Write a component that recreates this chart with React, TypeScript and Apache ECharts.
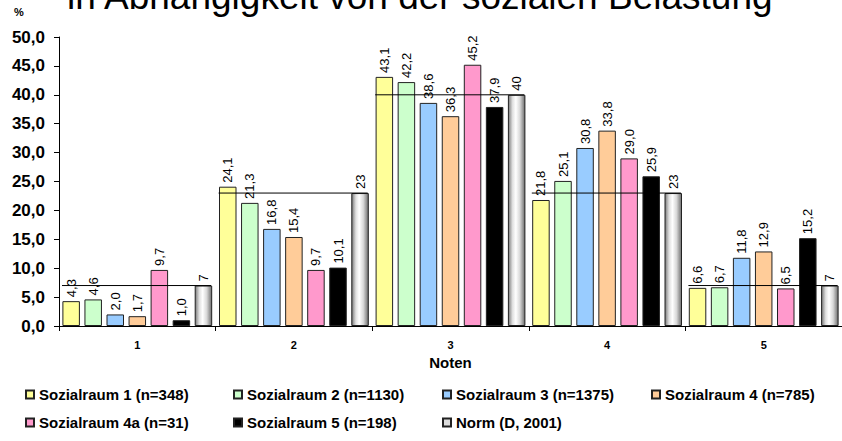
import React, { useEffect, useRef } from "react";
import * as echarts from "echarts";

const categories = ["1", "2", "3", "4", "5"];
const seriesNames = [
  "Sozialraum 1 (n=348)",
  "Sozialraum 2 (n=1130)",
  "Sozialraum 3 (n=1375)",
  "Sozialraum 4 (n=785)",
  "Sozialraum 4a (n=31)",
  "Sozialraum 5 (n=198)",
  "Norm (D, 2001)",
];
const sozialraum1 = [4.3, 24.1, 43.1, 21.8, 6.6];
const sozialraum2 = [4.6, 21.3, 42.2, 25.1, 6.7];
const sozialraum3 = [2.0, 16.8, 38.6, 30.8, 11.8];
const sozialraum4 = [1.7, 15.4, 36.3, 33.8, 12.9];
const sozialraum4a = [9.7, 9.7, 45.2, 29.0, 6.5];
const sozialraum5 = [1.0, 10.1, 37.9, 25.9, 15.2];
const norm = [7, 23, 40, 23, 7];
const yTicks = { min: 0, max: 50, interval: 5 };

const colors = ["#FFFF99", "#CCFFCC", "#99CCFF", "#FFCC99", "#FF99CC", "#000000"];
const FONT = "'Liberation Sans', Arial, Helvetica, sans-serif";

export default function App() {
  const ref = useRef<HTMLDivElement>(null);
  useEffect(() => {
    if (!ref.current) return;
    const chart = echarts.init(ref.current, null, { renderer: "svg" });
    const values = [sozialraum1, sozialraum2, sozialraum3, sozialraum4, sozialraum4a, sozialraum5];
    const normGradient = new echarts.graphic.LinearGradient(1, 0, 0, 0, [
      { offset: 0, color: "#6e6e6e" },
      { offset: 0.3, color: "#d8d8d8" },
      { offset: 0.55, color: "#ffffff" },
      { offset: 0.75, color: "#e0e0e0" },
      { offset: 1, color: "#7a7a7a" },
    ]);
    const barSeries: any[] = values.map((vals, i) => ({
      name: seriesNames[i],
      type: "bar",
      data: vals,
      barWidth: 17.5,
      barGap: "26%",
      itemStyle: { color: colors[i], borderColor: "#222", borderWidth: 1 },
      label: {
        show: true,
        position: "top",
        rotate: 90,
        align: "left",
        verticalAlign: "middle",
        distance: 4,
        fontSize: 13,
        fontFamily: FONT,
        color: "#000",
        formatter: (p: any) => p.value.toFixed(1).replace(".", ","),
      },
    }));
    barSeries.push({
      name: seriesNames[6],
      type: "bar",
      data: norm,
      barWidth: 17.5,
      barGap: "26%",
      itemStyle: { color: normGradient, borderColor: "#222", borderWidth: 1 },
      label: {
        show: true,
        position: "top",
        rotate: 90,
        align: "left",
        verticalAlign: "middle",
        distance: 4,
        fontSize: 13,
        fontFamily: FONT,
        color: "#000",
        formatter: (p: any) => String(p.value),
      },
    });
    barSeries.push({
      type: "custom",
      name: "normline",
      z: 5,
      data: norm.map((v, i) => [i, v]),
      renderItem: (params: any, api: any) => {
        const c = api.coord([api.value(0), api.value(1)]);
        const bw = api.size([1, 0])[0];
        return {
          type: "line",
          shape: { x1: c[0] - bw / 2 + 3, y1: c[1], x2: c[0] + bw / 2 - 4.5, y2: c[1] },
          style: { stroke: "#000", lineWidth: 1 },
        };
      },
    });

    const legendPos = [
      [25, 387],
      [233, 387],
      [442, 387],
      [651, 387],
      [25, 415],
      [233, 415],
      [442, 415],
    ];
    const legends = seriesNames.map((n, i) => ({
      left: legendPos[i][0],
      top: legendPos[i][1],
      padding: 0,
      itemWidth: 8,
      itemHeight: 8,
      icon: "rect",
      selectedMode: false,
      data: [i === 6 ? { name: n, itemStyle: { color: "#dcdcdc" } } : n],
      textStyle: { fontSize: 15, fontWeight: "bold", fontFamily: FONT, color: "#000" },
    }));

    chart.setOption({
      animation: false,
      backgroundColor: "#fff",
      grid: { left: 59, right: -9.5, top: 37, bottom: 115, containLabel: false },
      legend: legends,
      xAxis: {
        type: "category",
        data: categories,
        axisLine: { show: true, lineStyle: { color: "#000", width: 1 } },
        axisTick: { show: true, length: 5, lineStyle: { color: "#000" } },
        axisLabel: { fontSize: 11, fontWeight: "bold", fontFamily: FONT, color: "#000", margin: 13 },
        name: "Noten",
        nameLocation: "middle",
        nameGap: 23,
        nameTextStyle: { fontSize: 15, fontWeight: "bold", fontFamily: FONT, color: "#000" },
      },
      yAxis: {
        type: "value",
        min: yTicks.min,
        max: yTicks.max,
        interval: yTicks.interval,
        axisLine: { show: true, lineStyle: { color: "#000", width: 1 } },
        axisTick: { show: true, length: 5, lineStyle: { color: "#000" } },
        splitLine: { show: false },
        axisLabel: {
          fontSize: 17,
          fontWeight: "bold",
          fontFamily: FONT,
          color: "#000",
          margin: 14,
          formatter: (v: number) => v.toFixed(1).replace(".", ","),
        },
      },
      graphic: [
        {
          type: "text",
          left: 14,
          top: 6,
          style: { text: "%", fontSize: 11, fontWeight: "bold", fontFamily: FONT, fill: "#000" },
        },
        {
          type: "text",
          x: 67,
          y: 15,
          style: {
            text: "in Abhängigkeit von der sozialen Belastung",
            fontSize: 37,
            fontFamily: FONT,
            fill: "#000",
            verticalAlign: "bottom",
          },
        },
      ],
      series: barSeries,
    });
    return () => chart.dispose();
  }, []);
  return (
    <div
      ref={ref}
      style={{ position: "fixed", left: 0, top: 0, width: 842, height: 441 }}
    />
  );
}
